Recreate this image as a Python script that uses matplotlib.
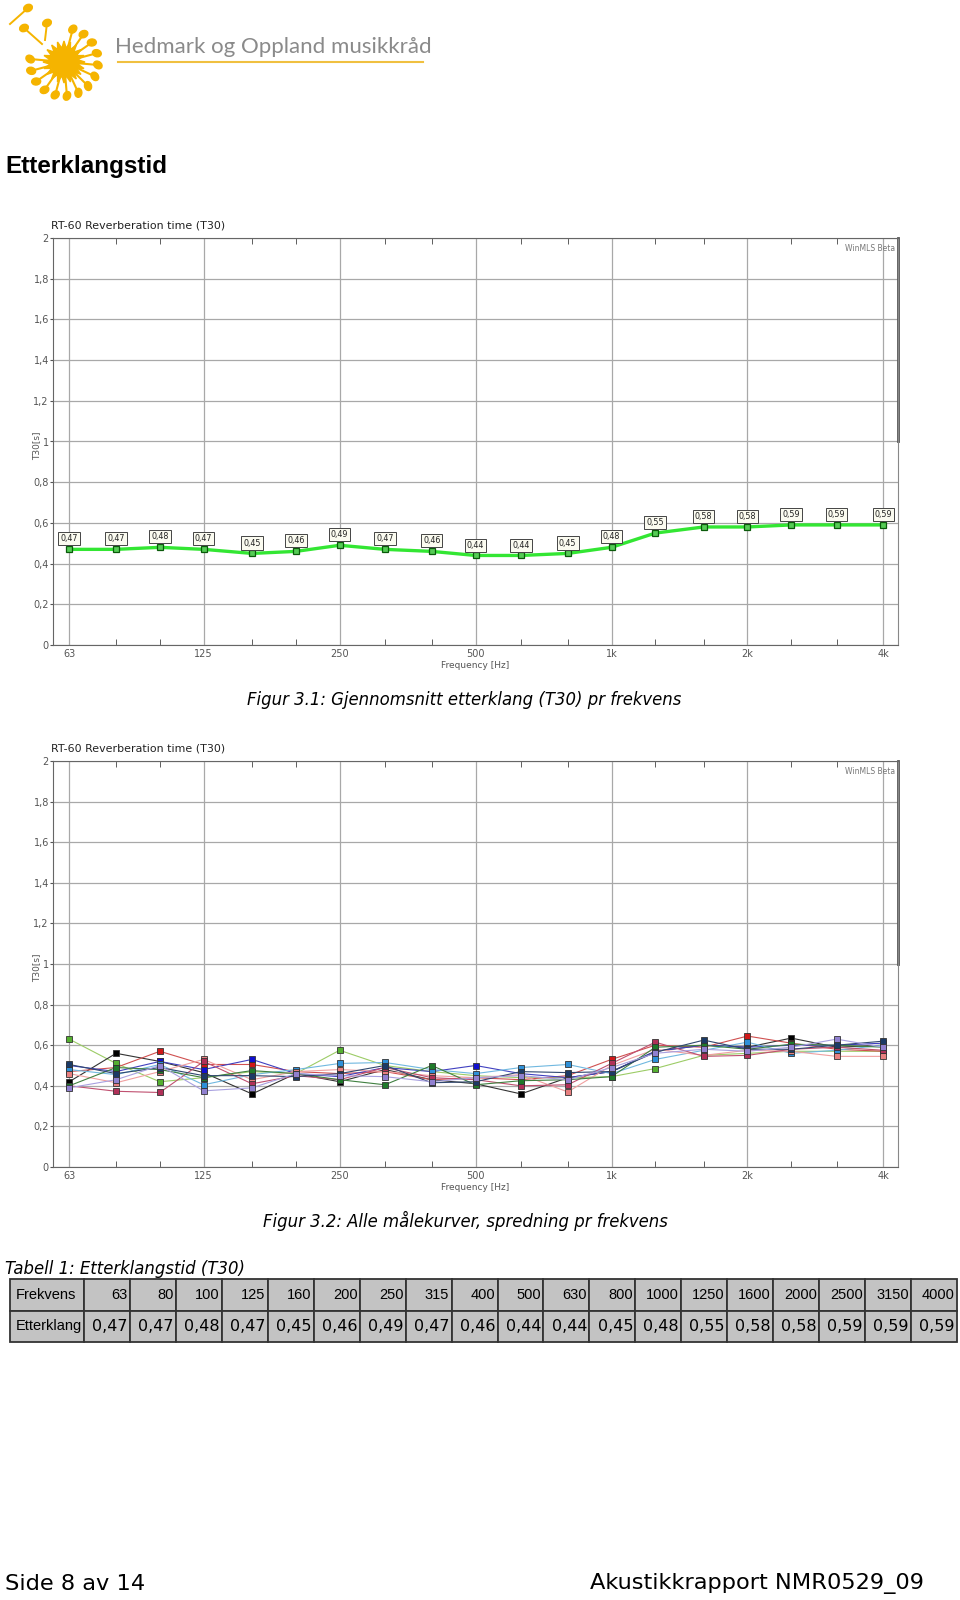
import numpy as np
import matplotlib
matplotlib.use("Agg")
import matplotlib.pyplot as plt
from matplotlib.patches import Ellipse
from matplotlib.ticker import FixedLocator, FuncFormatter, NullFormatter

W, H = 960, 1600

# 1/3-octave centre frequencies and mean T30
freqs = [63, 80, 100, 125, 160, 200, 250, 315, 400, 500, 630, 800,
         1000, 1250, 1600, 2000, 2500, 3150, 4000]
t30_mean = [0.47, 0.47, 0.48, 0.47, 0.45, 0.46, 0.49, 0.47, 0.46, 0.44,
            0.44, 0.45, 0.48, 0.55, 0.58, 0.58, 0.59, 0.59, 0.59]

octave_ticks = [63, 125, 250, 500, 1000, 2000, 4000]
octave_labels = ["63", "125", "250", "500", "1k", "2k", "4k"]

run_lightgreen = [0.63, 0.51, 0.42, 0.44, 0.47, 0.46, 0.575, 0.50, 0.47, 0.45,
                  0.44, 0.44, 0.445, 0.485, 0.55, 0.56, 0.57, 0.57, 0.57]
run_black = [0.42, 0.56, 0.52, 0.465, 0.36, 0.46, 0.42, 0.48, 0.43, 0.41,
             0.36, 0.44, 0.47, 0.57, 0.60, 0.59, 0.635, 0.59, 0.60]
run_red = [0.47, 0.49, 0.57, 0.505, 0.505, 0.47, 0.46, 0.47, 0.43, 0.44,
           0.43, 0.45, 0.53, 0.60, 0.59, 0.645, 0.61, 0.58, 0.57]
run_blue = [0.50, 0.47, 0.52, 0.48, 0.53, 0.46, 0.445, 0.49, 0.47, 0.50,
            0.46, 0.44, 0.47, 0.57, 0.60, 0.59, 0.60, 0.60, 0.61]
run_cyan = [0.48, 0.455, 0.505, 0.405, 0.455, 0.48, 0.51, 0.515, 0.48, 0.46,
            0.49, 0.505, 0.46, 0.53, 0.575, 0.615, 0.56, 0.575, 0.60]
run_salmon = [0.46, 0.415, 0.47, 0.53, 0.43, 0.47, 0.48, 0.47, 0.45, 0.44,
              0.455, 0.37, 0.50, 0.58, 0.55, 0.575, 0.57, 0.545, 0.545]
run_maroon = [0.40, 0.373, 0.367, 0.52, 0.41, 0.45, 0.43, 0.49, 0.44, 0.43,
              0.40, 0.405, 0.51, 0.615, 0.545, 0.55, 0.58, 0.59, 0.575]
run_darkgreen = [0.40, 0.49, 0.48, 0.44, 0.475, 0.46, 0.43, 0.405, 0.50, 0.405,
                 0.425, 0.43, 0.445, 0.59, 0.60, 0.58, 0.605, 0.60, 0.59]
run_navy = [0.505, 0.46, 0.49, 0.45, 0.45, 0.445, 0.46, 0.50, 0.415, 0.42,
            0.47, 0.465, 0.47, 0.565, 0.625, 0.58, 0.58, 0.60, 0.62]
run_lavender = [0.39, 0.43, 0.50, 0.375, 0.39, 0.46, 0.45, 0.445, 0.42, 0.44,
                0.45, 0.43, 0.49, 0.56, 0.58, 0.57, 0.59, 0.63, 0.59]

runs = [
    (run_lightgreen, "#9ccc66", "#55b030"),
    (run_black, "#333333", "#000000"),
    (run_red, "#d05050", "#d01818"),
    (run_blue, "#4040c0", "#1010d0"),
    (run_cyan, "#70b8e0", "#2e90d8"),
    (run_salmon, "#f0a0a0", "#e88080"),
    (run_maroon, "#c05070", "#b03058"),
    (run_darkgreen, "#408040", "#1f7a2a"),
    (run_navy, "#304870", "#1c3a66"),
    (run_lavender, "#a8a0e0", "#9080d0"),
]

SUN = "#f5b400"
GRID = "#a8a8a8"


def px_axes(fig, left, top, right, bottom):
    return fig.add_axes([left / W, 1 - bottom / H, (right - left) / W, (bottom - top) / H])


def comma(v, pos=None):
    return ("%g" % v).replace(".", ",")


def rt_chart(ax):
    ax.set_xscale("log")
    ax.set_xlim(58.0, 4308)
    ax.set_ylim(0, 2)
    ax.xaxis.set_major_locator(FixedLocator(octave_ticks))
    ax.xaxis.set_major_formatter(FuncFormatter(lambda v, p: octave_labels[octave_ticks.index(int(round(v)))]))
    ax.xaxis.set_minor_locator(FixedLocator([f for f in freqs if f not in octave_ticks]))
    ax.xaxis.set_minor_formatter(NullFormatter())
    ax.set_yticks(np.arange(0, 2.01, 0.2))
    ax.yaxis.set_major_formatter(FuncFormatter(comma))
    ax.grid(True, which="major", color=GRID, lw=0.9)
    ax.tick_params(axis="x", which="major", length=0, pad=3, labelsize=7, labelcolor="#555555")
    ax.tick_params(axis="x", which="minor", direction="in", length=4, top=True, bottom=True, color="#444444")
    ax.tick_params(axis="y", length=2, pad=1, labelsize=7, labelcolor="#555555", color="#555555")
    for s in ["left", "bottom", "top"]:
        ax.spines[s].set_color("#666666")
    ax.spines["right"].set_color("#888888")
    ax.plot([1, 1], [0.5, 1], transform=ax.transAxes, color="#555555", lw=2, clip_on=False)
    ax.text(-0.002, 1.031, "RT-60 Reverberation time (T30)", transform=ax.transAxes,
            ha="left", va="center", fontsize=7.9, color="#222222")
    ax.text(-0.019, 0.49, "T30[s]", transform=ax.transAxes, rotation=90,
            ha="center", va="center", fontsize=6.5, color="#555555")
    ax.text(0.5, -0.05, "Frequency [Hz]", transform=ax.transAxes,
            ha="center", va="center", fontsize=6.5, color="#555555")
    ax.text(0.997, 0.985, "WinMLS Beta", transform=ax.transAxes,
            ha="right", va="top", fontsize=5.5, color="#777777")


fig = plt.figure(figsize=(W / 100, H / 100), dpi=100)

# logo
lg = px_axes(fig, 0, 0, 130, 110)
lg.set_xlim(0, 130)
lg.set_ylim(110, 0)
lg.axis("off")
cx, cy = 64, 62
for a in np.deg2rad([-75, -55, -35, -15, 5, 25, 45, 65, 85, 105, 125, 145, 165, 185]):
    ex, ey = cx + 34 * np.cos(a), cy + 34 * np.sin(a)
    lg.plot([cx, ex], [cy, ey], color=SUN, lw=1.5)
    lg.add_patch(Ellipse((ex, ey), 9, 7, angle=np.rad2deg(a) + 30, color=SUN))
for (x0, y0, x1, y1) in [(10, 24, 28, 8), (42, 44, 24, 28), (45, 40, 47, 23)]:
    lg.plot([x0, x1], [y0, y1], color=SUN, lw=1.4)
    lg.add_patch(Ellipse((x1, y1), 9, 7, angle=-25, color=SUN))
ang = np.linspace(0, 2 * np.pi, 41)[:-1]
rad = np.where(np.arange(40) % 2 == 0, 21, 14)
lg.fill(cx + rad * np.cos(ang), cy + rad * np.sin(ang), color=SUN)

fig.text(115 / W, 1 - 47 / H, "Hedmark og Oppland musikkråd", family="Lato",
         fontsize=16, color="#8a8a8a", ha="left", va="center")
fig.add_artist(plt.Line2D([118 / W, 423 / W], [1 - 62 / H, 1 - 62 / H], color="#f0c040", lw=1.5))

fig.text(5 / W, 1 - 166 / H, "Etterklangstid", family="Liberation Sans",
         weight="bold", fontsize=17.5, ha="left", va="center")

# figure 3.1
ax1 = px_axes(fig, 53, 238, 898, 645)
rt_chart(ax1)
ax1.plot(freqs, t30_mean, color="#33e633", lw=2.4, marker="s", ms=4,
         mfc="#55cc55", mec="#0a5a0a", mew=0.9, zorder=3)
for f, v in zip(freqs, t30_mean):
    ax1.annotate(comma(v), (f, v), xytext=(0, 7.5), textcoords="offset points",
                 ha="center", va="center", fontsize=5.8, color="#222222",
                 bbox=dict(boxstyle="square,pad=0.25", fc="#fbfbf0", ec="#444444", lw=0.7))

fig.text(464 / W, 1 - 700 / H, "Figur 3.1: Gjennomsnitt etterklang (T30) pr frekvens",
         family="DejaVu Sans", style="italic", fontsize=11.9, ha="center", va="center")

# figure 3.2
ax2 = px_axes(fig, 53, 761, 898, 1167)
rt_chart(ax2)
for vals, lc, mc in runs:
    ax2.plot(freqs, vals, color=lc, lw=0.8, marker="s", ms=4.5,
             mfc=mc, mec="#333333", mew=0.6, zorder=3)

fig.text(465 / W, 1 - 1221 / H, "Figur 3.2: Alle målekurver, spredning pr frekvens",
         family="DejaVu Sans", style="italic", fontsize=11.9, ha="center", va="center")

fig.text(5 / W, 1 - 1269 / H, "Tabell 1: Etterklangstid (T30)",
         family="DejaVu Sans", style="italic", fontsize=11.9, ha="left", va="center")

# table
tx = px_axes(fig, 10, 1279, 957, 1342)
tx.axis("off")
cells = [["Frekvens"] + [str(f) for f in freqs],
         ["Etterklang"] + ["%.2f" % v for v in t30_mean]]
cells[1] = [c.replace(".", ",") for c in cells[1]]
first_w = 74 / 947
col_w = [first_w] + [(1 - first_w) / len(freqs)] * len(freqs)
tbl = tx.table(cellText=cells, colWidths=col_w, bbox=[0, 0, 1, 1], cellLoc="right")
tbl.auto_set_font_size(False)
for (r, c), cell in tbl.get_celld().items():
    cell.set_facecolor("#c3c3c3")
    cell.set_edgecolor("#333333")
    cell.set_linewidth(1.3)
    t = cell.get_text()
    if r == 0 or c == 0:
        t.set_fontfamily("Liberation Sans")
        t.set_fontsize(10.5)
    else:
        t.set_fontfamily("DejaVu Sans")
        t.set_fontsize(11.5)
    if c == 0:
        t.set_horizontalalignment("left")
        cell.PAD = 0.08
    else:
        cell.PAD = 0.05

# footer
fig.text(5 / W, 1 - 1584 / H, "Side 8 av 14", family="DejaVu Sans", fontsize=16.2,
         ha="left", va="center")
fig.text(924 / W, 1 - 1584 / H, "Akustikkrapport NMR0529_09", family="DejaVu Sans",
         fontsize=16.2, ha="right", va="center")

fig.savefig("out.png", dpi=100)
